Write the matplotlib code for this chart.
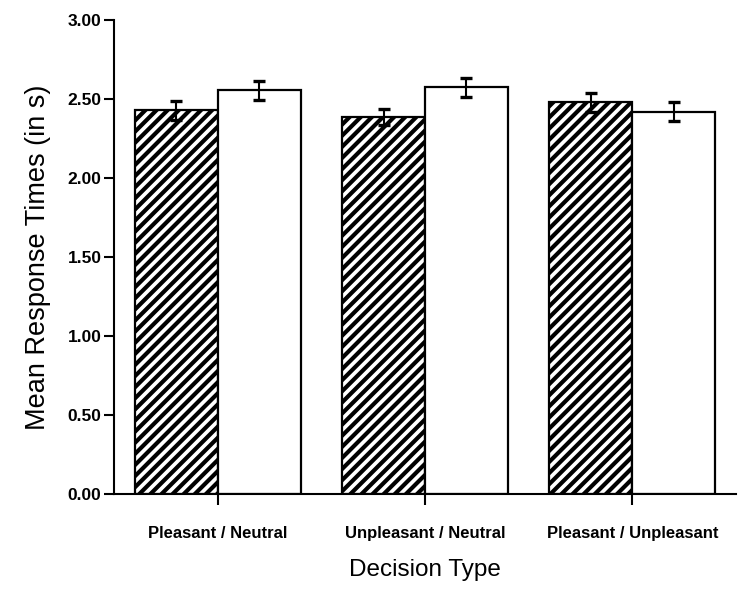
import matplotlib
matplotlib.use("Agg")
import matplotlib.pyplot as plt
import numpy as np

plt.rcParams['font.family'] = ['Liberation Sans', 'DejaVu Sans']
plt.rcParams['hatch.linewidth'] = 3.0

# values
decision_types = ['Pleasant / Neutral', 'Unpleasant / Neutral', 'Pleasant / Unpleasant']
hatched_means = [2.43, 2.385, 2.48]
hatched_errs = [0.06, 0.05, 0.06]
open_means = [2.555, 2.575, 2.42]
open_errs = [0.06, 0.06, 0.06]
yticks = [0.0, 0.5, 1.0, 1.5, 2.0, 2.5, 3.0]

fig = plt.figure(figsize=(7.44, 5.92), dpi=100)
ax = fig.add_axes([0.1532, 0.1655, 0.836, 0.8007])

x = np.arange(len(decision_types))
w = 0.40

ax.bar(x - w / 2, hatched_means, w, facecolor='white', edgecolor='black',
       hatch='///', linewidth=1.6, zorder=2)
ax.bar(x + w / 2, open_means, w, facecolor='white', edgecolor='black',
       linewidth=1.6, zorder=2)
ax.errorbar(x - w / 2, hatched_means, yerr=hatched_errs, fmt='none', ecolor='black',
            elinewidth=1.5, capsize=4.5, capthick=2.4, zorder=3)
ax.errorbar(x + w / 2, open_means, yerr=open_errs, fmt='none', ecolor='black',
            elinewidth=1.5, capsize=4.5, capthick=2.4, zorder=3)

ax.set_xlim(-0.5, 2.5)
ax.set_ylim(0, 3)
ax.set_yticks(yticks)
ax.set_yticklabels(['%.2f' % v for v in yticks], fontsize=12.5, fontweight='bold')
ax.set_xticks(x)
ax.set_xticklabels(decision_types, fontsize=12, fontweight='bold')

ax.spines['top'].set_visible(False)
ax.spines['right'].set_visible(False)
ax.spines['left'].set_linewidth(1.5)
ax.spines['bottom'].set_linewidth(1.5)
ax.tick_params(axis='y', direction='out', length=7, width=1.5, pad=2)
ax.tick_params(axis='x', direction='out', length=8, width=1.5, pad=15)

ax.set_ylabel('Mean Response Times (in s)', fontsize=19.5, labelpad=12)
ax.set_xlabel('Decision Type', fontsize=17.5, labelpad=13)

fig.savefig('out.png', dpi=100)
